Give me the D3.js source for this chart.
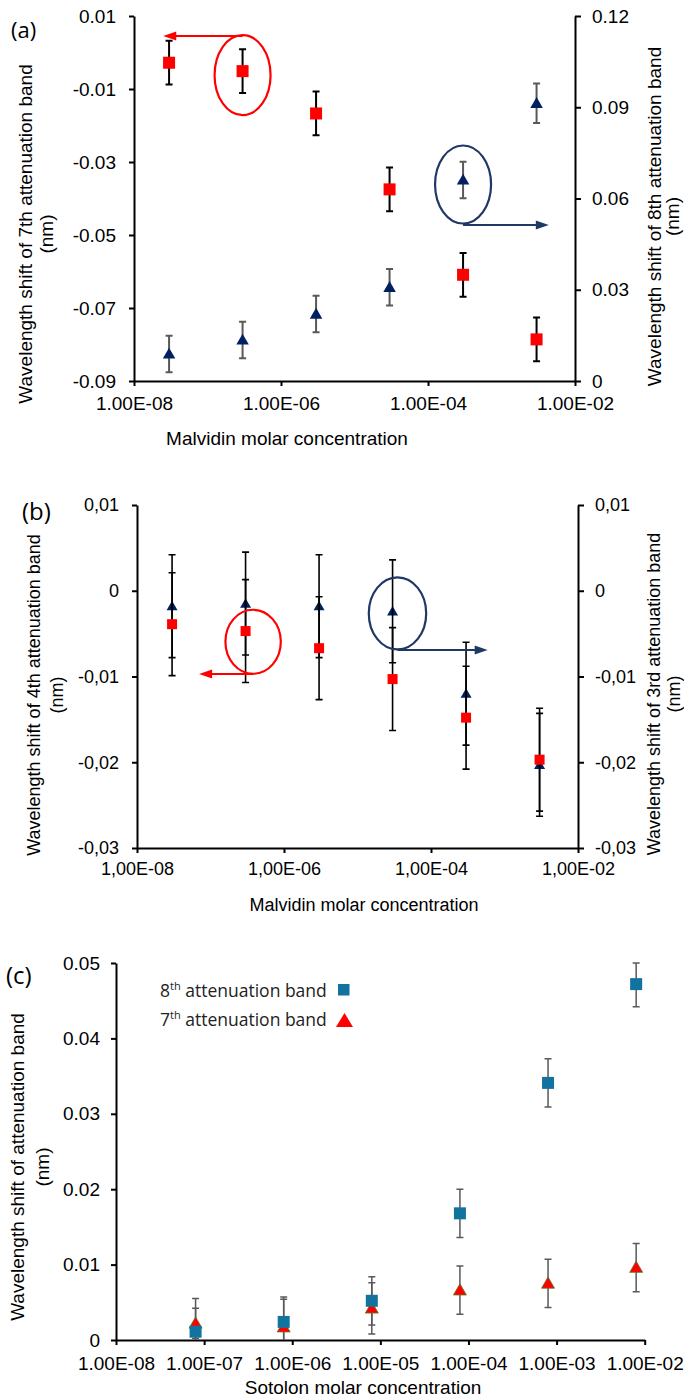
<!DOCTYPE html>
<html>
<head>
<meta charset="utf-8">
<script src="https://cdn.jsdelivr.net/npm/d3@7"></script>
<style>
  body { margin: 0; background: #fff; }
  svg { display: block; font-family: "Liberation Sans", Arial, sans-serif; }
</style>
</head>
<body>
<svg id="chart" width="684" height="1399"></svg>
<script>
// (a) malvidin: 7th band on left axis, 8th band on right axis
const concA = [3e-8, 3e-7, 3e-6, 3e-5, 3e-4, 3e-3];
const band7A = [-0.0028, -0.0051, -0.0167, -0.0375, -0.0609, -0.0786];
const band7AErr = [0.006, 0.006, 0.006, 0.006, 0.006, 0.006];
const band8A = [0.0089, 0.0135, 0.022, 0.0308, 0.0661, 0.0913];
const band8AErr = [0.006, 0.006, 0.006, 0.006, 0.006, 0.0065];

// (b) malvidin: 4th band on left axis, 3rd band on right axis
const concB = [3e-8, 3e-7, 3e-6, 3e-5, 3e-4, 3e-3];
const band4B = [-0.0039, -0.0047, -0.0067, -0.0103, -0.0148, -0.0197];
const band4BErr = [0.006, 0.006, 0.006, 0.006, 0.006, 0.006];
const band3B = [-0.0018, -0.0015, -0.0018, -0.0024, -0.012, -0.0203];
const band3BErr = [0.006, 0.006, 0.006, 0.006, 0.006, 0.006];

// (c) sotolon
const concC = [8e-8, 8e-7, 8e-6, 8e-5, 8e-4, 8e-3];
const band8C = [0.0011, 0.0024, 0.0052, 0.0168, 0.0341, 0.0472];
const band8CErr = [0.0044, 0.0033, 0.0032, 0.0032, 0.0032, 0.003];
const band7C = [0.0022, 0.0017, 0.0042, 0.0066, 0.0075, 0.0096];
const band7CErr = [0.002, 0.0037, 0.0034, 0.0032, 0.0032, 0.0032];

// ticks
const xTicksAB = [1e-8, 1e-6, 1e-4, 1e-2];
const xTicksC = [1e-8, 1e-7, 1e-6, 1e-5, 1e-4, 1e-3, 1e-2];
const yTicksA = [0.01, -0.01, -0.03, -0.05, -0.07, -0.09];
const y2TicksA = [0, 0.03, 0.06, 0.09, 0.12];
const yTicksB = [0.01, 0, -0.01, -0.02, -0.03];
const yTicksC = [0, 0.01, 0.02, 0.03, 0.04, 0.05];

const svg = d3.select("#chart");
const red = "#ff0000", navy = "#002060", grey = "#595959", teal = "#13739f";

function sciFmt(sep) {
  return d => {
    const e = Math.round(Math.log10(d));
    return ("1.00E" + (e < 0 ? "-" : "+") + String(Math.abs(e)).padStart(2, "0")).replace(".", sep);
  };
}
function numFmt(sep) {
  return d => d === 0 ? "0" : d.toFixed(2).replace(".", sep);
}

function styleAxis(g, size, w) {
  g.attr("font-family", null).attr("font-size", size);
  g.select(".domain").attr("stroke-width", w);
  g.selectAll(".tick line").attr("stroke-width", w);
  g.selectAll(".tick text").attr("fill", "#000");
}

function errorBars(xs, ys, errs, x, y, color, w, cap) {
  const lo = y.domain()[0];
  svg.append("g").selectAll("path").data(xs).join("path")
    .attr("fill", "none").attr("stroke", color).attr("stroke-width", w)
    .attr("d", (d, i) => {
      const cx = x(d), top = y(ys[i] + errs[i]), bot = y(ys[i] - errs[i]);
      let p = `M${cx},${bot}V${top}M${cx - cap},${top}H${cx + cap}`;
      if (ys[i] - errs[i] >= lo) p += `M${cx - cap},${bot}H${cx + cap}`;
      return p;
    });
}

function squares(xs, ys, x, y, color, s) {
  svg.append("g").selectAll("rect").data(xs).join("rect")
    .attr("x", d => x(d) - s / 2).attr("y", (d, i) => y(ys[i]) - s / 2)
    .attr("width", s).attr("height", s).attr("fill", color);
}

function triangles(xs, ys, x, y, color, w, stroke) {
  const sym = d3.symbol().type(d3.symbolTriangle).size(w * w * Math.sqrt(3) / 4);
  svg.append("g").selectAll("path").data(xs).join("path")
    .attr("transform", (d, i) => `translate(${x(d)},${y(ys[i]) + 1})`)
    .attr("d", sym).attr("fill", color)
    .attr("stroke", stroke || "none").attr("stroke-width", 0.8);
}

function callout(cx, cy, rx, ry, x0, x1, ay, color) {
  svg.append("ellipse").attr("cx", cx).attr("cy", cy).attr("rx", rx).attr("ry", ry)
    .attr("fill", "none").attr("stroke", color).attr("stroke-width", 2.2);
  const dir = x1 > x0 ? 1 : -1;
  svg.append("line").attr("x1", x0).attr("x2", x1 - dir * 10).attr("y1", ay).attr("y2", ay)
    .attr("stroke", color).attr("stroke-width", 2);
  svg.append("path").attr("fill", color)
    .attr("d", `M${x1},${ay}L${x1 - dir * 13},${ay - 4.5}L${x1 - dir * 13},${ay + 4.5}Z`);
}

function vTitle(lines, cx, cy, gap, size) {
  lines.forEach((t, i) => {
    svg.append("text").attr("transform", `translate(${cx + i * gap},${cy}) rotate(-90)`)
      .attr("text-anchor", "middle").attr("dy", "0.35em").attr("font-size", size).text(t);
  });
}

function panelLabel(t, x, y, size) {
  svg.append("text").attr("x", x).attr("y", y).attr("font-family", "Open Sans")
    .attr("font-size", size).text(t);
}

// ---------- (a)
const xA = d3.scaleLog().domain([1e-8, 1e-2]).range([134, 575]);
const yA = d3.scaleLinear().domain([-0.09, 0.01]).range([381, 16]);
const y2A = d3.scaleLinear().domain([0, 0.12]).range([381, 16]);

svg.append("g").attr("transform", "translate(0,381)")
  .call(d3.axisBottom(xA).tickValues(xTicksAB).tickFormat(sciFmt(".")).tickSize(5).tickPadding(11).tickSizeOuter(0))
  .call(styleAxis, 19, 2);
svg.append("g").attr("transform", "translate(134,0)")
  .call(d3.axisLeft(yA).tickValues(yTicksA).tickFormat(numFmt(".")).tickSize(5).tickPadding(13).tickSizeOuter(0))
  .call(styleAxis, 19, 2);
svg.append("g").attr("transform", "translate(575,0)")
  .call(d3.axisRight(y2A).tickValues(y2TicksA).tickFormat(numFmt(".")).tickSize(6).tickPadding(11).tickSizeOuter(0))
  .call(styleAxis, 19, 2);

errorBars(concA, band8A, band8AErr, xA, y2A, grey, 2, 3.5);
errorBars(concA, band7A, band7AErr, xA, yA, "#000", 2, 3.5);
triangles(concA, band8A, xA, y2A, navy, 12.5);
squares(concA, band7A, xA, yA, red, 12);

callout(xA(3e-7), yA(-0.0062), 28, 40, xA(3e-7), xA(2.5e-8), yA(0.0045), red);
callout(xA(3e-4), y2A(0.0646), 28, 39, xA(3e-4), xA(4.4e-3), y2A(0.0513), "#1f3864");

vTitle(["Wavelength shift of 7th attenuation band", "(nm)"], 25.5, 234, 21, 19);
vTitle(["Wavelength shift of 8th attenuation band", "(nm)"], 654, 216.5, 18, 19);
svg.append("text").attr("x", 287).attr("y", 445).attr("text-anchor", "middle").attr("font-size", 19)
  .text("Malvidin molar concentration");
panelLabel("(a)", 11, 38, 22);

// ---------- (b)
const xB = d3.scaleLog().domain([1e-8, 1e-2]).range([137, 578]);
const yB = d3.scaleLinear().domain([-0.03, 0.01]).range([848, 505]);
const y2B = d3.scaleLinear().domain([-0.03, 0.01]).range([848, 505]);

svg.append("g").attr("transform", "translate(0,848)")
  .call(d3.axisBottom(xB).tickValues(xTicksAB).tickFormat(sciFmt(",")).tickSize(5).tickPadding(9).tickSizeOuter(0))
  .call(styleAxis, 18, 2);
svg.append("g").attr("transform", "translate(137,0)")
  .call(d3.axisLeft(yB).tickValues(yTicksB).tickFormat(numFmt(",")).tickSize(5).tickPadding(13).tickSizeOuter(0))
  .call(styleAxis, 18, 2);
svg.append("g").attr("transform", "translate(578,0)")
  .call(d3.axisRight(y2B).tickValues(yTicksB).tickFormat(numFmt(",")).tickSize(6).tickPadding(11).tickSizeOuter(0))
  .call(styleAxis, 18, 2);

triangles(concB, band3B, xB, y2B, navy, 11);
errorBars(concB, band3B, band3BErr, xB, y2B, "#000", 1.6, 3.5);
errorBars(concB, band4B, band4BErr, xB, yB, "#000", 1.6, 3.5);
squares(concB, band4B, xB, yB, red, 10);

callout(xB(3.8e-7), yB(-0.00595), 27.7, 32, xB(3.8e-7), xB(7e-8), yB(-0.0097), red);
callout(xB(3.5e-5), y2B(-0.00264), 28.7, 36, xB(3.5e-5), xB(5.9e-4), y2B(-0.0069), "#1f3864");

vTitle(["Wavelength shift of 4th attenuation band", "(nm)"], 33.5, 695, 23, 18);
vTitle(["Wavelength shift of 3rd attenuation band", "(nm)"], 654, 694, 20, 18);
svg.append("text").attr("x", 364).attr("y", 911).attr("text-anchor", "middle").attr("font-size", 18)
  .text("Malvidin molar concentration");
panelLabel("(b)", 22, 520, 24);

// ---------- (c)
const xC = d3.scaleLog().domain([1e-8, 1e-2]).range([116, 644.7]);
const yC = d3.scaleLinear().domain([0, 0.05]).range([1340, 963]).clamp(true);

svg.append("g").attr("transform", "translate(0,1340)")
  .call(d3.axisBottom(xC).tickValues(xTicksC).tickFormat(sciFmt(".")).tickSize(5).tickPadding(12).tickSizeOuter(0))
  .call(styleAxis, 19, 2);
svg.append("g").attr("transform", "translate(116,0)")
  .call(d3.axisLeft(yC).tickValues(yTicksC).tickFormat(numFmt(".")).tickSize(5).tickPadding(11).tickSizeOuter(0))
  .call(styleAxis, 19, 2);

errorBars(concC, band7C, band7CErr, xC, yC, grey, 1.5, 3.5);
errorBars(concC, band8C, band8CErr, xC, yC, grey, 1.5, 3.5);
triangles(concC, band7C, xC, yC, red, 13, "#5a7a2a");
squares(concC, band8C, xC, yC, teal, 12);

vTitle(["Wavelength shift  of attenuation band", "(nm)"], 17.5, 1167, 24.5, 19);
svg.append("text").attr("x", 363).attr("y", 1394).attr("text-anchor", "middle").attr("font-size", 19)
  .text("Sotolon molar concentration");
panelLabel("(c)", 6, 984, 24);

// legend (c)
const legend = svg.append("g").attr("font-family", "Open Sans").attr("font-size", 17.5).attr("fill", "#222");
[["8", 997], ["7", 1026]].forEach(([n, by]) => {
  const t = legend.append("text").attr("x", 160).attr("y", by);
  t.append("tspan").text(n);
  t.append("tspan").attr("font-size", 11).attr("dy", -7).text("th");
  t.append("tspan").attr("dy", 7).text(" attenuation band");
});
legend.append("rect").attr("x", 338).attr("y", 984).attr("width", 11.5).attr("height", 11.5).attr("fill", teal);
legend.append("path").attr("fill", red).attr("d", "M344.5,1013L353,1027L336,1027Z");
</script>
</body>
</html>
